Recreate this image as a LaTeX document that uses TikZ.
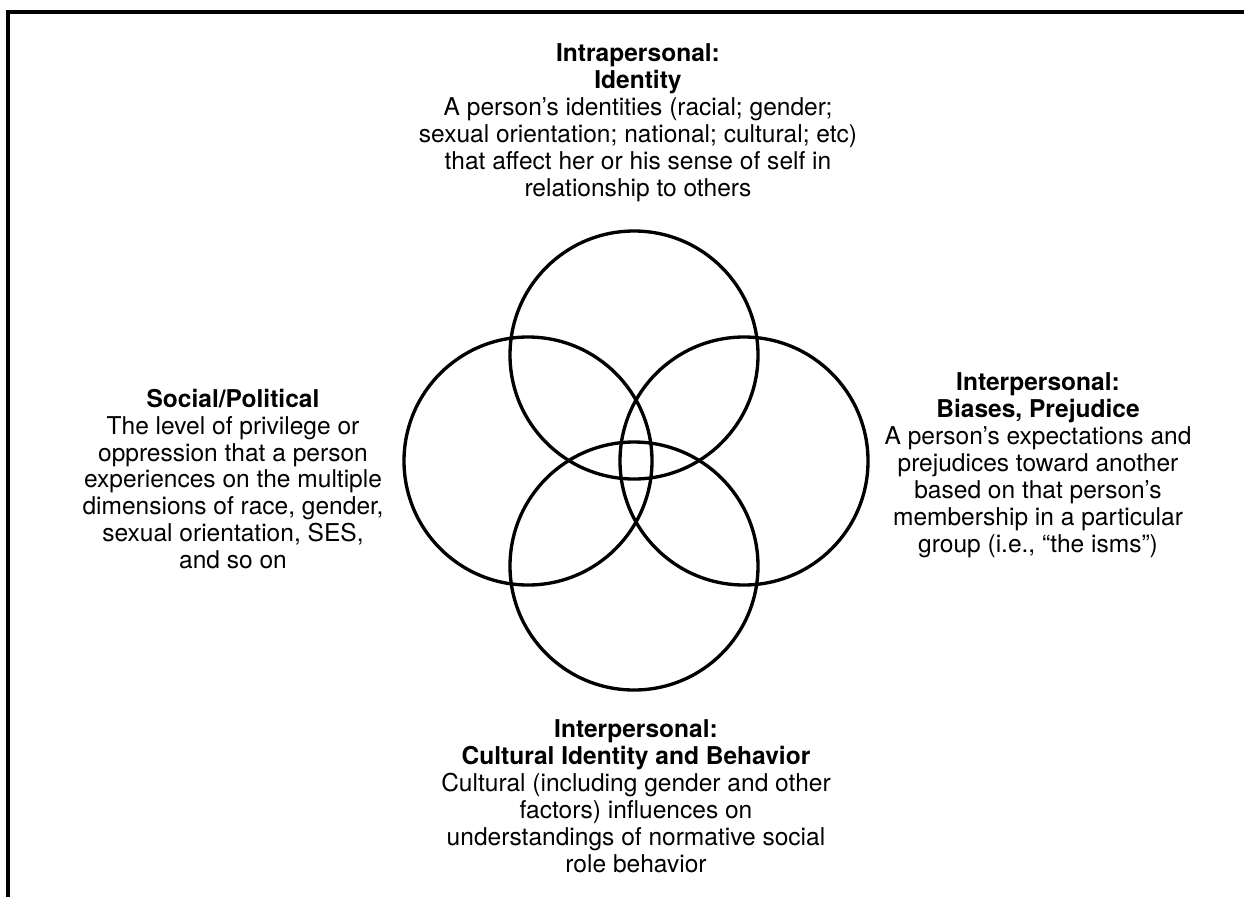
\documentclass[tikz,border=0pt]{standalone}
\usepackage{fontspec}
\setmainfont{TeX Gyre Heros}
\begin{document}
\begin{tikzpicture}[x=0.75pt,y=-0.75pt,
  ring/.style={circle,draw,line width=2.5pt,minimum size=186pt,inner sep=0pt},
  txtblock/.style={align=center,font=\fontsize{18.4pt}{20.2pt}\selectfont,inner sep=0pt},
  frameline/.style={line width=2.4pt}]
\useasboundingbox (0,0) rectangle (1244,897);
% frame
\coordinate (fTL) at (8,12);
\coordinate (fTR) at (1244,12);
\coordinate (fBL) at (8,897);
\draw[frameline] (fTR) -- (fTL) -- (fBL);
% circles
\node[ring] (ctop) at (634,355) {};
\node[ring] (cleft) at (528,461) {};
\node[ring] (cright) at (744,461) {};
\node[ring] (cbottom) at (634,566) {};
% texts
\node[txtblock] (ttop) at (638,123) {\textbf{Intrapersonal:}\\\textbf{Identity}\\A person’s identities (racial; gender;\\sexual orientation; national; cultural; etc)\\that affect her or his sense of self in\\relationship to others};
\node[txtblock] (tleft) at (233,479) {\textbf{Social/Political}\\The level of privilege or\\oppression that a person\\experiences on the multiple\\dimensions of race, gender,\\sexual orientation, SES,\\and so on};
\node[txtblock] (tright) at (1038,465) {\textbf{Interpersonal:}\\\textbf{Biases, Prejudice}\\A person’s expectations and\\prejudices toward another\\based on that person’s\\membership in a particular\\group (i.e., “the isms”)};
\node[txtblock] (tbottom) at (636,796) {\textbf{Interpersonal:}\\\textbf{Cultural Identity and Behavior}\\Cultural (including gender and other\\factors) influences on\\understandings of normative social\\role behavior};
\end{tikzpicture}
\end{document}
